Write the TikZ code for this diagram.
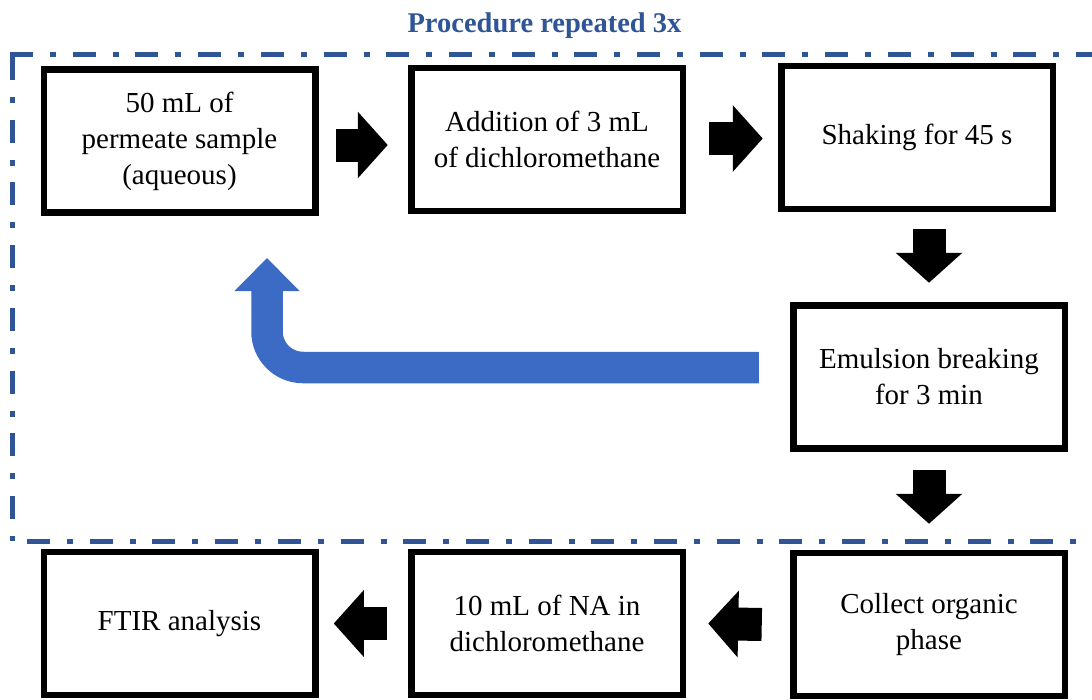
\documentclass[tikz,border=0pt]{standalone}
\usepackage{fontspec}
\setmainfont{Liberation Serif}
\usetikzlibrary{positioning, arrows.meta}
\definecolor{pFrame}{HTML}{2F5597}
\definecolor{pLoop}{HTML}{3B6BC5}

\begin{document}
\begin{tikzpicture}[x=1pt, y=-1pt,
    box/.style={draw=black, line width=6.5pt, fill=white, minimum width=271.5pt, minimum height=143pt,
      inner sep=0pt, align=center, font=\fontsize{29}{36}\selectfont},
    blk/.style={line width=33pt, -{Triangle[length=30pt, width=65pt]}},
    backArrow/.style={draw=pLoop, line width=31.5pt, rounded corners=36pt, -{Triangle[length=33pt, width=63pt]}},
    repFrame/.style={draw=pFrame, line width=5pt, dash pattern=on 23pt off 17pt on 6pt off 16.7pt}]
  \useasboundingbox (0,0) rectangle (1092,699);
  \clip (0,0) rectangle (1092,699);
  \draw[repFrame] (10,54) -- (1100,54);
  \draw[repFrame] (12.5,57) -- (12.5,541);
  \draw[repFrame, dash phase=48.2pt] (12.5,541) -- (1100,541);
  \node[font=\fontsize{28.5}{34}\selectfont\bfseries, text=pFrame, anchor=base] (title) at (544.5,32) {Procedure repeated 3x};
  \node[box] (sample) at (179.5,141) {50 mL of\\permeate sample\\(aqueous)};
  \node[box] (dcm) at (547,139.5) {Addition of 3 mL\\of dichloromethane};
  \node[box] (shake) at (917,137.5) {Shaking for 45 s};
  \node[box] (emul) at (929,377) {Emulsion breaking\\for 3 min};
  \node[box] (organic) at (929,624.5) {Collect organic\\phase};
  \node[box] (naDcm) at (547,623.5) {10 mL of NA in\\dichloromethane};
  \node[box] (ftir) at (179.5,623.5) {FTIR analysis};
  \draw[blk] ([xshift=17.25pt, yshift=-4pt]sample.east) -- ([xshift=-20.25pt, yshift=-5.5pt]dcm.west);
  \draw[blk] ([xshift=23.25pt, yshift=1pt]dcm.east) -- ([xshift=-15.25pt, yshift=-1pt]shake.west);
  \draw[blk] ([xshift=12pt, yshift=-17pt]shake.south) -- ([yshift=19.5pt]emul.north);
  \draw[blk] ([yshift=-18.5pt]emul.south) -- ([yshift=26pt]organic.north);
  \draw[blk] ([xshift=-28.25pt]organic.west) -- ([xshift=22.25pt]naDcm.east);
  \draw[blk] ([xshift=-21.25pt]naDcm.west) -- ([xshift=15.25pt]ftir.east);
  \coordinate (loopTip) at (267,258);
  \draw[backArrow] ([xshift=-31.25pt, yshift=9.5pt]emul.west) -| (loopTip);
\end{tikzpicture}
\end{document}
